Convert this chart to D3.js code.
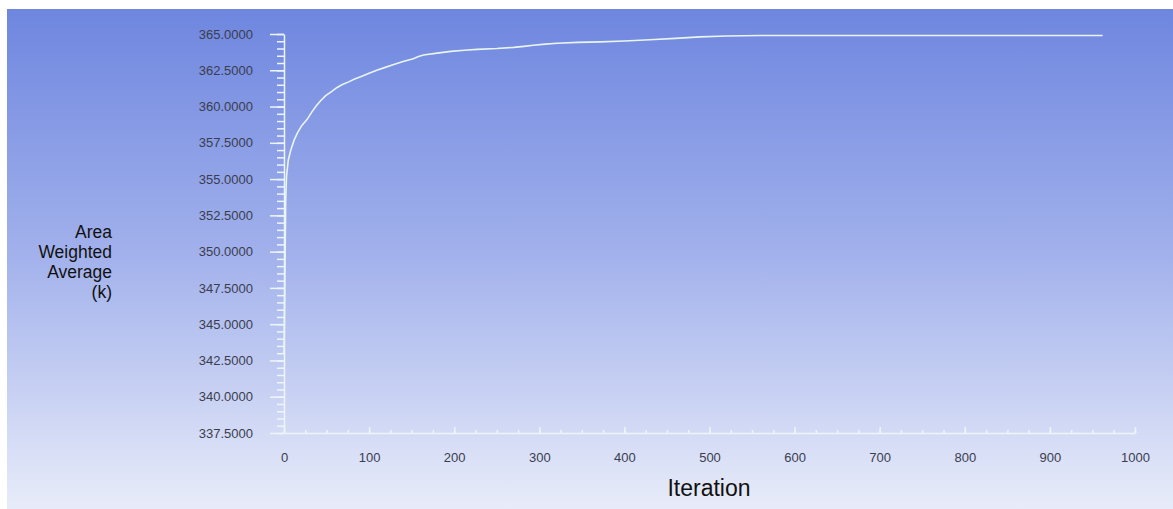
<!DOCTYPE html>
<html>
<head>
<meta charset="utf-8">
<script src="https://cdn.jsdelivr.net/npm/d3@7"></script>
<style>
  html, body { margin: 0; padding: 0; background: #fff; }
  svg { display: block; font-family: "Liberation Sans", Arial, sans-serif; }
</style>
</head>
<body>
<svg id="chart" width="1173" height="509"></svg>
<script>
// iteration vs area weighted average temperature
const iterations = [0, 1, 2, 3, 5, 8, 12, 16, 21, 27, 33, 38, 43, 49, 55, 62, 68, 76, 83, 90,
  100, 109, 119, 129, 140, 152, 158, 164, 180, 196, 212, 227, 250, 270, 282, 293, 307, 321,
  345, 372, 400, 430, 460, 489, 520, 560, 600, 700, 800, 900, 962];
const values = [343.0, 348.0, 353.5, 355.2, 356.3, 357.0, 357.7, 358.2, 358.7, 359.1, 359.65,
  360.05, 360.4, 360.75, 361.0, 361.3, 361.5, 361.7, 361.9, 362.05, 362.3, 362.5, 362.7, 362.9,
  363.1, 363.3, 363.45, 363.55, 363.68, 363.8, 363.88, 363.94, 364.0, 364.08, 364.15, 364.22,
  364.3, 364.36, 364.42, 364.46, 364.52, 364.6, 364.7, 364.8, 364.86, 364.9, 364.9, 364.9,
  364.9, 364.9, 364.9];

const xTicks = [0, 100, 200, 300, 400, 500, 600, 700, 800, 900, 1000];
const yTicks = [337.5, 340, 342.5, 345, 347.5, 350, 352.5, 355, 357.5, 360, 362.5, 365];
const yLabelLines = ["Area", "Weighted", "Average", "(k)"];

const svg = d3.select("#chart");
const width = 1173, height = 509;

const defs = svg.append("defs");
const grad = defs.append("linearGradient")
    .attr("id", "bg")
    .attr("x1", 0).attr("y1", 0).attr("x2", 0).attr("y2", 1);
grad.append("stop").attr("offset", "0%").attr("stop-color", "#6e86df");
grad.append("stop").attr("offset", "50%").attr("stop-color", "#a3b2ec");
grad.append("stop").attr("offset", "100%").attr("stop-color", "#e8ecf9");

svg.append("rect")
    .attr("x", 7).attr("y", 9)
    .attr("width", width - 7).attr("height", height - 9)
    .attr("fill", "url(#bg)");

const x = d3.scaleLinear().domain([0, 1000]).range([284, 1135]);
const y = d3.scaleLinear().domain([337.5, 365]).range([433, 34]);

const axisColor = "#eef5f8";
const labelColor = "#3a3d4e";

// minor ticks first
const yMinor = d3.range(337.5, 365.01, 0.5);
svg.append("g")
    .attr("transform", "translate(284,0)")
    .call(d3.axisLeft(y).tickValues(yMinor).tickSize(7).tickSizeOuter(0).tickFormat(""))
    .call(g => g.select(".domain").remove());

const xMinor = d3.range(0, 1001, 25);
svg.append("g")
    .attr("transform", "translate(0,433)")
    .call(d3.axisBottom(x).tickValues(xMinor).tickSize(-3).tickSizeOuter(0).tickFormat(""))
    .call(g => g.select(".domain").remove());

// major ticks + labels
svg.append("g")
    .attr("transform", "translate(284,0)")
    .call(d3.axisLeft(y).tickValues(yTicks).tickSize(14).tickSizeOuter(0)
        .tickPadding(17).tickFormat(d3.format(".4f")));

svg.append("g")
    .attr("transform", "translate(0,433)")
    .call(d3.axisBottom(x).tickValues(xTicks).tickSize(-6).tickSizeOuter(0)
        .tickPadding(20).tickFormat(d3.format("d")));

svg.selectAll(".tick line").attr("stroke", axisColor).attr("stroke-width", 1.5);
svg.selectAll(".domain").attr("stroke", axisColor).attr("stroke-width", 1.5);
svg.selectAll(".tick text")
    .attr("fill", labelColor)
    .style("font-size", "13px")
    .style("font-family", "'Liberation Sans', Arial, sans-serif");

// data line
const line = d3.line()
    .x((d, i) => x(iterations[i]))
    .y(d => y(d));

svg.append("path")
    .datum(values)
    .attr("fill", "none")
    .attr("stroke", "#e9f5f1")
    .attr("stroke-width", 1.6)
    .attr("d", line);

// axis titles
svg.append("text")
    .attr("x", 709)
    .attr("y", 496)
    .attr("text-anchor", "middle")
    .style("font-size", "23px")
    .style("fill", "#111")
    .text("Iteration");

svg.append("g")
    .selectAll("text")
    .data(yLabelLines)
    .enter()
    .append("text")
    .attr("x", 112)
    .attr("y", (d, i) => 238 + i * 20)
    .attr("text-anchor", "end")
    .style("font-size", "17.5px")
    .style("fill", "#111")
    .text(d => d);
</script>
</body>
</html>
